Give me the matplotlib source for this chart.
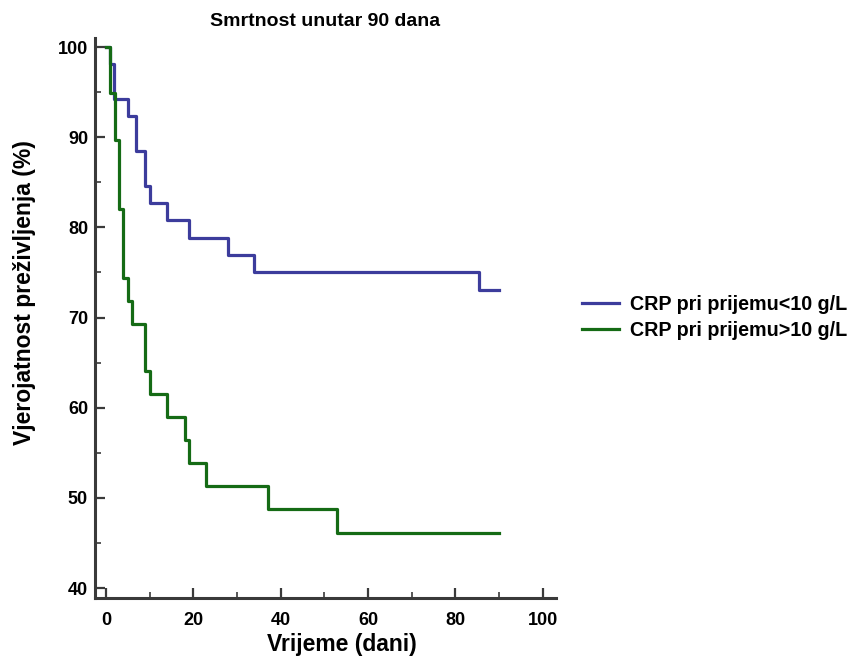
import numpy as np
import matplotlib.pyplot as plt

plt.rcParams['font.family'] = ['Liberation Sans', 'DejaVu Sans']
plt.rcParams['font.weight'] = 'bold'

# Kaplan-Meier steps (time in days, survival in %)
t_low = [0, 1, 1.8, 5, 7, 9, 10, 14, 19, 28, 34, 85.5, 90]
s_low = [100, 98.08, 94.23, 92.31, 88.46, 84.62, 82.69, 80.77, 78.85, 76.92, 75.0, 73.08, 73.08]

t_high = [0, 1, 2, 3, 4, 5, 6, 9, 10, 14, 18, 19, 23, 37, 53, 90]
s_high = [100, 94.87, 89.74, 82.05, 74.36, 71.79, 69.23, 64.10, 61.54, 58.97,
          56.41, 53.85, 51.28, 48.72, 46.15, 46.15]

labels = ['CRP pri prijemu<10 g/L', 'CRP pri prijemu>10 g/L']
colors = ['#3c3c9c', '#156b15']

fig = plt.figure(figsize=(8.51, 6.59), dpi=100)
ax = fig.add_axes([0.1116, 0.0926, 0.5417, 0.8497])

ax.step(t_low, s_low, where='post', color=colors[0], lw=2.3, label=labels[0], zorder=2)
ax.step(t_high, s_high, where='post', color=colors[1], lw=2.3, label=labels[1], zorder=3)

ax.set_xlim(-2.5, 103)
ax.set_ylim(38.9, 101)
ax.set_xticks(np.arange(0, 101, 20))
ax.set_xticks(np.arange(10, 100, 20), minor=True)
ax.set_yticks(np.arange(40, 101, 10))
ax.set_yticks(np.arange(45, 100, 10), minor=True)

for side in ['top', 'right']:
    ax.spines[side].set_visible(False)
for side in ['left', 'bottom']:
    ax.spines[side].set_color('#3a3a3a')
    ax.spines[side].set_linewidth(2.2)

ax.tick_params(which='major', direction='in', length=7, width=1.6, color='#3a3a3a',
               labelsize=13)
ax.tick_params(axis='y', pad=5)
ax.tick_params(axis='x', pad=10)
ax.tick_params(which='minor', direction='in', length=4, width=1.2, color='#3a3a3a')
for lab in ax.get_xticklabels() + ax.get_yticklabels():
    lab.set_fontweight('bold')

ax.set_title('Smrtnost unutar 90 dana', fontsize=14, fontweight='bold', pad=9)
ax.set_xlabel('Vrijeme (dani)', fontsize=16.5, fontweight='bold', labelpad=2)
ax.xaxis.set_label_coords(0.535, -0.062)
ax.set_ylabel('Vjerojatnost preživljenja (%)', fontsize=16.5, fontweight='bold')
ax.yaxis.set_label_coords(-0.128, 0.546)

ax.legend(loc='center left', bbox_to_anchor=(1.018, 0.501), frameon=False,
          prop={'size': 14.2, 'weight': 'bold'}, handlelength=1.88, handletextpad=0.56,
          labelspacing=0.38)

fig.savefig('out.png', dpi=100)
